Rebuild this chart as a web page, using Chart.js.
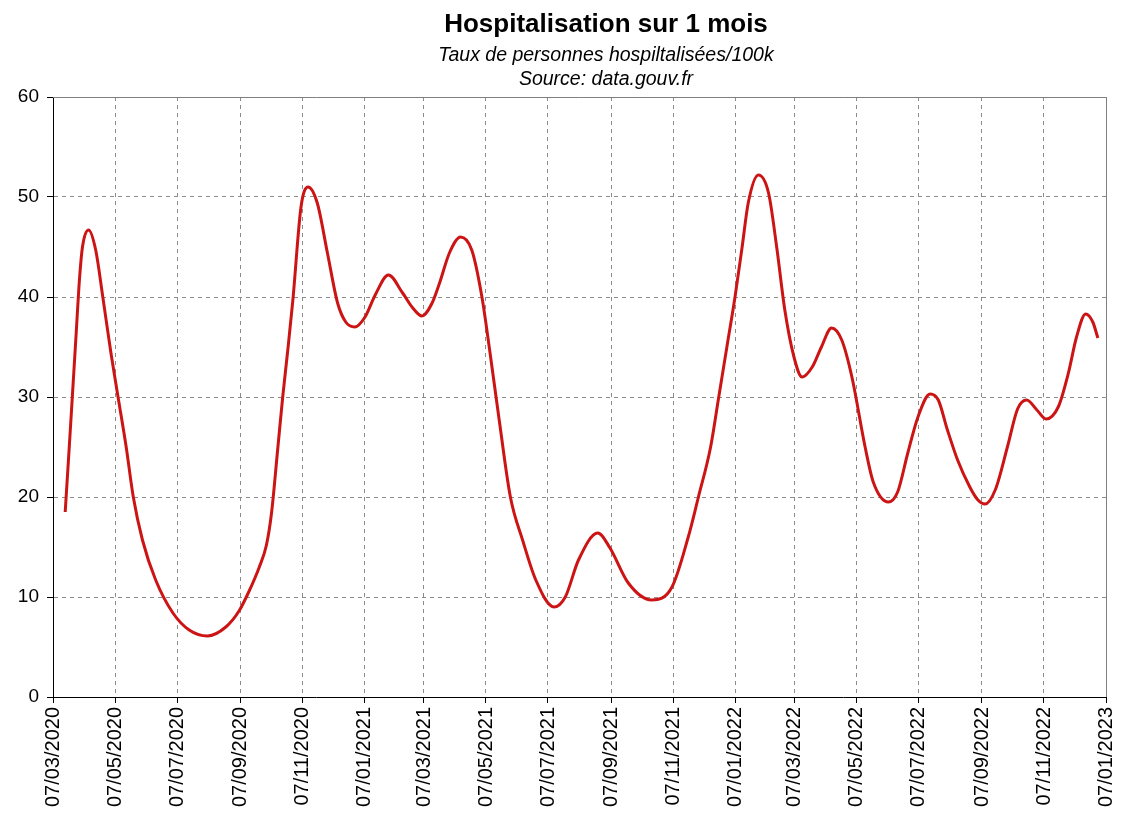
<!DOCTYPE html>
<html>
<head>
<meta charset="utf-8">
<title>Hospitalisation sur 1 mois</title>
<script src="https://cdn.jsdelivr.net/npm/chart.js@4.4.0/dist/chart.umd.min.js"></script>
<style>
  html, body { margin: 0; padding: 0; background: #fff; }
</style>
</head>
<body>
<canvas id="hospChart" width="1134" height="826"></canvas>
<script>
// taux de personnes hospitalisées /100k
const dates = [
  '2020-03-19', '2020-03-23', '2020-03-26', '2020-03-30', '2020-04-02', '2020-04-05',
  '2020-04-11', '2020-04-18', '2020-04-25', '2020-05-03', '2020-05-10', '2020-05-18',
  '2020-05-25', '2020-06-03', '2020-06-16', '2020-07-03', '2020-07-19', '2020-08-06',
  '2020-08-24', '2020-09-06', '2020-09-16', '2020-09-26', '2020-10-03', '2020-10-08',
  '2020-10-14', '2020-10-19', '2020-10-24', '2020-10-29', '2020-11-06', '2020-11-13',
  '2020-11-22', '2020-12-02', '2020-12-12', '2020-12-20', '2020-12-29', '2021-01-08',
  '2021-01-18', '2021-01-31', '2021-02-14', '2021-02-24', '2021-03-05', '2021-03-15',
  '2021-03-22', '2021-04-01', '2021-04-12', '2021-04-23', '2021-05-03', '2021-05-11',
  '2021-05-20', '2021-05-31', '2021-06-12', '2021-06-25', '2021-07-13', '2021-07-24',
  '2021-08-06', '2021-08-25', '2021-09-06', '2021-09-24', '2021-10-17', '2021-11-06',
  '2021-11-22', '2021-12-02', '2021-12-14', '2021-12-22', '2021-12-30', '2022-01-07',
  '2022-01-14', '2022-01-20', '2022-01-30', '2022-02-09', '2022-02-17', '2022-02-25',
  '2022-03-06', '2022-03-14', '2022-03-24', '2022-04-02', '2022-04-12', '2022-04-22',
  '2022-05-02', '2022-05-15', '2022-05-23', '2022-06-07', '2022-06-16', '2022-06-26',
  '2022-07-06', '2022-07-18', '2022-07-26', '2022-08-04', '2022-08-14', '2022-08-26',
  '2022-09-03', '2022-09-10', '2022-09-20', '2022-10-02', '2022-10-12', '2022-10-21',
  '2022-10-31', '2022-11-09', '2022-11-21', '2022-12-01', '2022-12-09', '2022-12-18',
  '2022-12-25', '2022-12-30'
];
const hospRate = [
  18.5, 25, 30, 36.7, 41.7, 45,
  46.7, 44.7, 40, 34.4, 30, 25,
  20, 15.7, 11.7, 8.4, 6.7, 6.1,
  7.0, 8.6, 10.6, 13.0, 15.2, 18.4,
  24.7, 30, 34.7, 39.7, 49, 51.0,
  49.4, 44.4, 39.4, 37.5, 37.0, 38,
  40.2, 42.2, 40.4, 38.9, 38.1, 39.4,
  41.3, 44.4, 46.0, 44.7, 40, 34.4,
  27.7, 20, 15.7, 11.7, 9.0, 10.0,
  13.7, 16.4, 14.9, 11.4, 9.7, 11.0,
  16.0, 20, 25, 30, 35, 40,
  45, 49.4, 52.2, 50.4, 45, 38.7,
  34.0, 32.0, 33, 35, 36.9, 35.7,
  32, 25, 21.5, 19.5, 20.5, 24.4,
  28.0, 30.3, 29.7, 26.7, 23.7, 21.0,
  19.7, 19.3, 20.7, 25.0, 28.8, 29.7,
  28.7, 27.8, 29.0, 32.4, 36.0, 38.3,
  37.5, 35.9
];
const tickDates = [
  '2020-03-07', '2020-05-07', '2020-07-07', '2020-09-07', '2020-11-07',
  '2021-01-07', '2021-03-07', '2021-05-07', '2021-07-07', '2021-09-07', '2021-11-07',
  '2022-01-07', '2022-03-07', '2022-05-07', '2022-07-07', '2022-09-07', '2022-11-07',
  '2023-01-07'
];
const yTicks = [0, 10, 20, 30, 40, 50, 60];

const startDay = Date.UTC(2020, 2, 7);
const dayOf = (d) => {
  const [y, m, dd] = d.split('-').map(Number);
  return Math.round((Date.UTC(y, m - 1, dd) - startDay) / 86400000);
};
const frDate = (d) => {
  const [y, m, dd] = d.split('-');
  return dd + '/' + m + '/' + y;
};
const tickLabelByDay = {};
tickDates.forEach((d) => { tickLabelByDay[dayOf(d)] = frDate(d); });

const FONT = '"Liberation Sans", Arial, sans-serif';

// titre + sous-titres
const titlesPlugin = {
  id: 'titles',
  afterDraw(chart) {
    const ctx = chart.ctx;
    const cx = 606;
    ctx.save();
    ctx.fillStyle = '#000';
    ctx.textAlign = 'center';
    ctx.textBaseline = 'alphabetic';
    ctx.font = 'bold 26px ' + FONT;
    ctx.fillText('Hospitalisation sur 1 mois', cx, 32);
    ctx.font = 'italic 19.5px ' + FONT;
    ctx.fillText('Taux de personnes hospiltalisées/100k', cx, 61);
    ctx.fillText('Source: data.gouv.fr', cx, 85);
    ctx.restore();
  }
};

// cadre gris haut / droite
const framePlugin = {
  id: 'frame',
  beforeDatasetsDraw(chart) {
    const { ctx, chartArea: a } = chart;
    ctx.save();
    ctx.strokeStyle = '#808080';
    ctx.lineWidth = 1;
    ctx.beginPath();
    ctx.moveTo(a.left, a.top + 0.5);
    ctx.lineTo(a.right + 0.5, a.top + 0.5);
    ctx.lineTo(a.right + 0.5, a.bottom);
    ctx.stroke();
    ctx.restore();
  }
};

const ctx = document.getElementById('hospChart').getContext('2d');
new Chart(ctx, {
  type: 'line',
  data: {
    datasets: [
      {
        label: 'Hospitalisation',
        data: dates.map((d, i) => ({ x: dayOf(d), y: hospRate[i] })),
        borderColor: '#cc1414',
        borderWidth: 3,
        pointRadius: 0,
        fill: false,
        cubicInterpolationMode: 'monotone',
      },
    ],
  },
  options: {
    responsive: false,
    animation: false,
    layout: { padding: { top: 97, right: 26, left: 0, bottom: 0 } },
    plugins: {
      legend: { display: false },
      tooltip: { enabled: false },
    },
    scales: {
      x: {
        type: 'linear',
        min: 0,
        max: dayOf('2023-01-07'),
        afterBuildTicks: (scale) => {
          scale.ticks = tickDates.map((d) => ({ value: dayOf(d) }));
        },
        afterFit: (scale) => { scale.height = 129; },
        ticks: {
          callback: (v) => tickLabelByDay[v],
          autoSkip: false,
          minRotation: 90,
          maxRotation: 90,
          padding: 4,
          color: '#000',
          font: { family: FONT, size: 20 },
        },
        grid: { color: '#8c8c8c', lineWidth: 1, tickColor: '#000', tickLength: 6 },
        border: { color: '#000', width: 1, dash: [4, 4] },
      },
      y: {
        min: 0,
        max: 60,
        afterBuildTicks: (scale) => {
          scale.ticks = yTicks.map((v) => ({ value: v }));
        },
        afterFit: (scale) => { scale.width = 53; },
        ticks: {
          padding: 8,
          color: '#000',
          font: { family: FONT, size: 19 },
        },
        grid: { color: '#8c8c8c', lineWidth: 1, tickColor: '#000', tickLength: 6 },
        border: { color: '#000', width: 1, dash: [4, 4] },
      },
    },
  },
  plugins: [titlesPlugin, framePlugin],
});
</script>
</body>
</html>
